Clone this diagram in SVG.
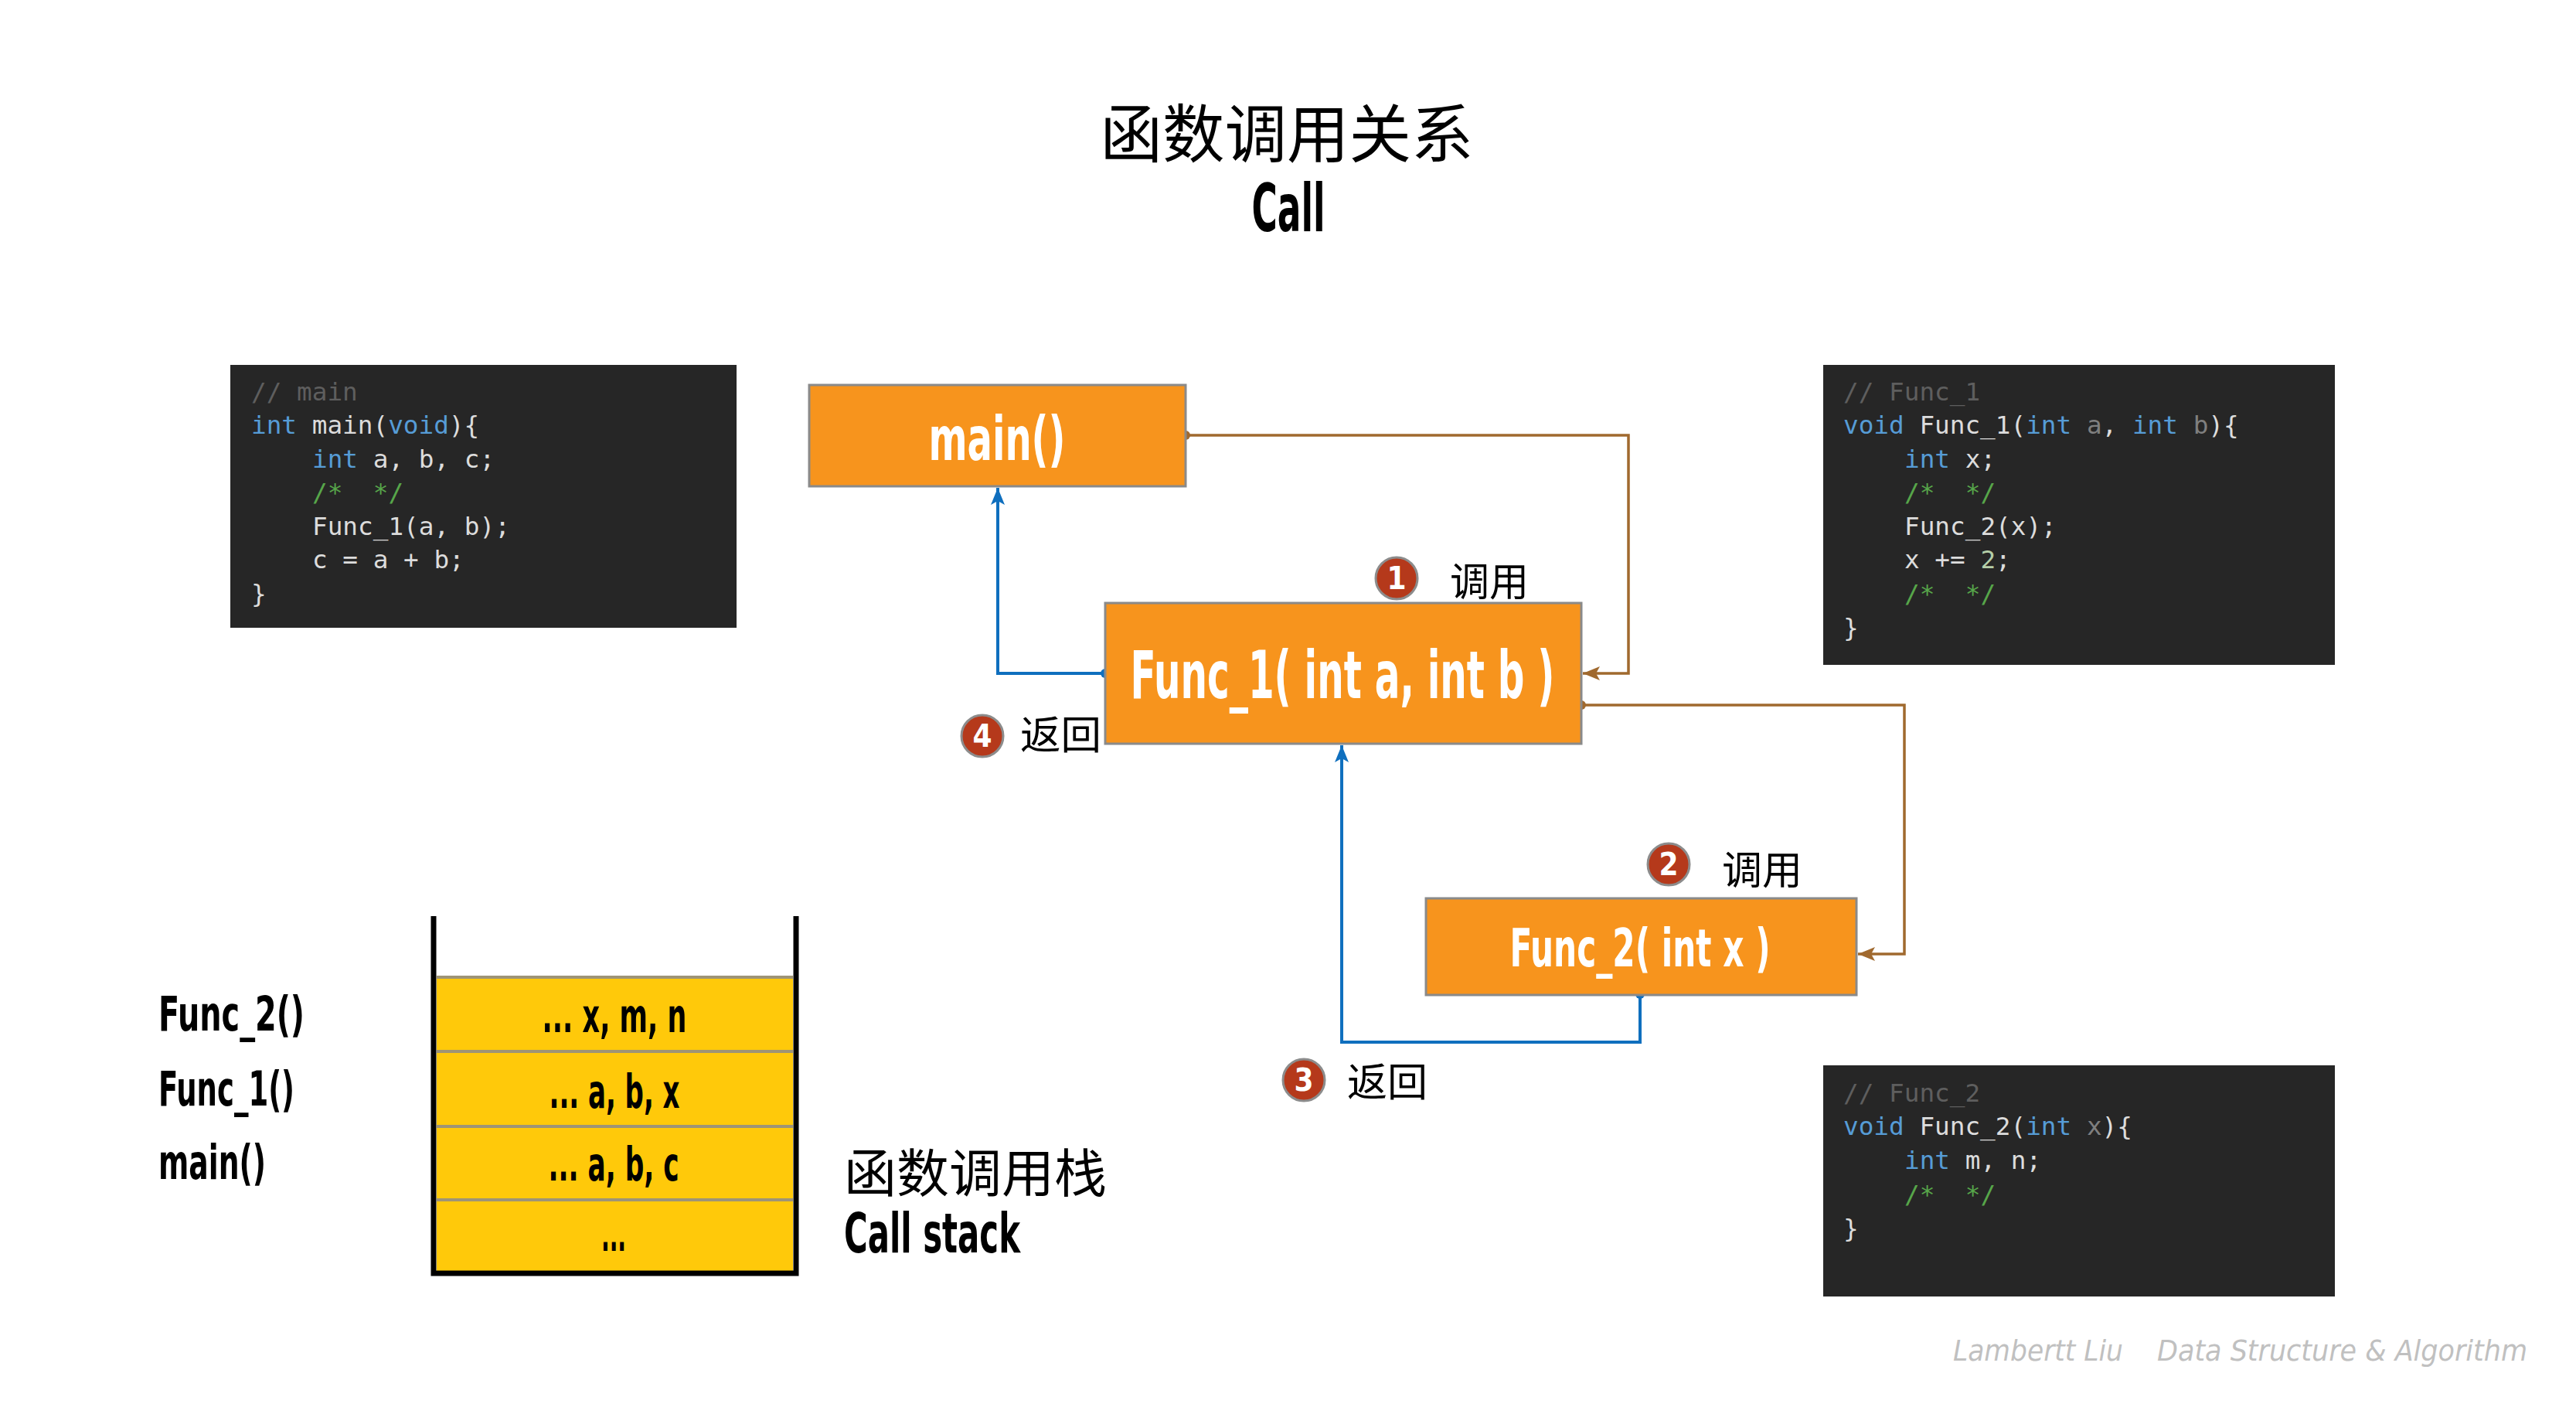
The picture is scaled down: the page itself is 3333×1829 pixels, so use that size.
<svg xmlns="http://www.w3.org/2000/svg" width="3333" height="1829" viewBox="0 0 3333 1829">
<defs>
<style>
.cond{font-family:"DejaVu Sans Condensed","DejaVu Sans",sans-serif;font-weight:bold;font-stretch:condensed}
.cjk{font-family:"Noto Sans CJK SC",sans-serif;fill:#000}
.box{fill:#F7941D;stroke:#8a8a8a;stroke-width:3}
.lbl{fill:#fff;text-anchor:middle}
.code{font-family:"DejaVu Sans Mono",monospace;font-size:32.7px;fill:#DCDCDC;white-space:pre}
.cbg{fill:#262626}
.kw{fill:#569CD6}
.cm{fill:#5e5e5e}
.gr{fill:#57A64A}
.un{fill:#7f7f7f}
.nu{fill:#B5CEA8}
.badge{fill:#B5391B;stroke:#8c8c8c;stroke-width:3}
.bnum{fill:#fff;text-anchor:middle;font-size:40px}
.brown{fill:none;stroke:#A0692E;stroke-width:3.5}
.blue{fill:none;stroke:#0F6FBE;stroke-width:4}
.cell{fill:#FFC90A}
.div{stroke:#9e9476;stroke-width:4}
.wall{stroke:#000;stroke-width:7;fill:none}
.stk{fill:#000;text-anchor:middle;font-size:60px}
</style>
<marker id="ahBrown" markerUnits="userSpaceOnUse" markerWidth="24" markerHeight="20" refX="22" refY="9" orient="auto">
<path d="M0,0 L22,9 L0,18 L5,9 z" fill="#A0692E"/>
</marker>
<marker id="ahBlue" markerUnits="userSpaceOnUse" markerWidth="24" markerHeight="20" refX="22" refY="9" orient="auto">
<path d="M0,0 L22,9 L0,18 L5,9 z" fill="#0F6FBE"/>
</marker>
<marker id="dotBrown" markerUnits="userSpaceOnUse" markerWidth="14" markerHeight="14" refX="7" refY="7">
<circle cx="7" cy="7" r="6" fill="#A0692E"/>
</marker>
<marker id="dotBlue" markerUnits="userSpaceOnUse" markerWidth="14" markerHeight="14" refX="7" refY="7">
<circle cx="7" cy="7" r="6" fill="#0F6FBE"/>
</marker>
</defs>
<rect width="3333" height="1829" fill="#fff"/>

<g id="title">
<text class="cjk" x="1665" y="203" font-size="82" text-anchor="middle" textLength="483" lengthAdjust="spacingAndGlyphs">函数调用关系</text>
<text class="cond" x="1667" y="299" font-size="85" text-anchor="middle" textLength="95" lengthAdjust="spacingAndGlyphs">Call</text>
</g>

<g id="code-main">
<rect class="cbg" x="298" y="472" width="655" height="340"/>
<text class="code" xml:space="preserve" x="325" y="518"><tspan class="cm">// main</tspan></text>
<text class="code" xml:space="preserve" x="325" y="561"><tspan class="kw">int</tspan> main(<tspan class="kw">void</tspan>){</text>
<text class="code" xml:space="preserve" x="404" y="605"><tspan class="kw">int</tspan> a, b, c;</text>
<text class="code" xml:space="preserve" x="404" y="648"><tspan class="gr">/*  */</tspan></text>
<text class="code" xml:space="preserve" x="404" y="692">Func_1(a, b);</text>
<text class="code" xml:space="preserve" x="404" y="735">c = a + b;</text>
<text class="code" xml:space="preserve" x="325" y="779">}</text>
</g>

<g id="code-func1">
<rect class="cbg" x="2359" y="472" width="662" height="388"/>
<text class="code" xml:space="preserve" x="2385" y="518"><tspan class="cm">// Func_1</tspan></text>
<text class="code" xml:space="preserve" x="2385" y="561"><tspan class="kw">void</tspan> Func_1(<tspan class="kw">int</tspan> <tspan class="un">a</tspan>, <tspan class="kw">int</tspan> <tspan class="un">b</tspan>){</text>
<text class="code" xml:space="preserve" x="2464" y="605"><tspan class="kw">int</tspan> x;</text>
<text class="code" xml:space="preserve" x="2464" y="648"><tspan class="gr">/*  */</tspan></text>
<text class="code" xml:space="preserve" x="2464" y="692">Func_2(x);</text>
<text class="code" xml:space="preserve" x="2464" y="735">x += <tspan class="nu">2</tspan>;</text>
<text class="code" xml:space="preserve" x="2464" y="779"><tspan class="gr">/*  */</tspan></text>
<text class="code" xml:space="preserve" x="2385" y="823">}</text>
</g>

<g id="code-func2">
<rect class="cbg" x="2359" y="1378" width="662" height="299"/>
<text class="code" xml:space="preserve" x="2385" y="1425"><tspan class="cm">// Func_2</tspan></text>
<text class="code" xml:space="preserve" x="2385" y="1468"><tspan class="kw">void</tspan> Func_2(<tspan class="kw">int</tspan> <tspan class="un">x</tspan>){</text>
<text class="code" xml:space="preserve" x="2464" y="1512"><tspan class="kw">int</tspan> m, n;</text>
<text class="code" xml:space="preserve" x="2464" y="1556"><tspan class="gr">/*  */</tspan></text>
<text class="code" xml:space="preserve" x="2385" y="1600">}</text>
</g>

<g id="connectors">
<path class="brown" d="M1534,563 H2107 V871 H2048" marker-start="url(#dotBrown)" marker-end="url(#ahBrown)"/>
<path class="brown" d="M2046,912 H2464 V1234 H2404" marker-start="url(#dotBrown)" marker-end="url(#ahBrown)"/>
<path class="blue" d="M1430,871 H1291 V631" marker-start="url(#dotBlue)" marker-end="url(#ahBlue)"/>
<path class="blue" d="M2122,1286 V1348 H1736 V964" marker-start="url(#dotBlue)" marker-end="url(#ahBlue)"/>
</g>

<g id="node-main">
<rect class="box" x="1047" y="498" width="487" height="131"/>
<text class="cond lbl" x="1290" y="595" font-size="78" textLength="177" lengthAdjust="spacingAndGlyphs">main()</text>
</g>

<g id="node-func1">
<rect class="box" x="1430" y="780" width="616" height="182"/>
<text class="cond lbl" x="1737" y="903" font-size="86" textLength="549" lengthAdjust="spacingAndGlyphs">Func_1( int a, int b )</text>
</g>

<g id="node-func2">
<rect class="box" x="1845" y="1162" width="557" height="125"/>
<text class="cond lbl" x="2122" y="1250" font-size="68" textLength="337" lengthAdjust="spacingAndGlyphs">Func_2( int x )</text>
</g>

<g id="step1">
<circle class="badge" cx="1807" cy="748" r="27"/>
<text class="cond bnum" x="1807" y="762">1</text>
<text class="cjk" x="1876" y="771" font-size="51" textLength="102" lengthAdjust="spacingAndGlyphs">调用</text>
</g>
<g id="step2">
<circle class="badge" cx="2159" cy="1118" r="27"/>
<text class="cond bnum" x="2159" y="1132">2</text>
<text class="cjk" x="2228" y="1144" font-size="51" textLength="104" lengthAdjust="spacingAndGlyphs">调用</text>
</g>
<g id="step3">
<circle class="badge" cx="1687" cy="1397" r="27"/>
<text class="cond bnum" x="1687" y="1411">3</text>
<text class="cjk" x="1743" y="1418" font-size="51" textLength="104" lengthAdjust="spacingAndGlyphs">返回</text>
</g>
<g id="step4">
<circle class="badge" cx="1271" cy="952" r="27"/>
<text class="cond bnum" x="1271" y="966">4</text>
<text class="cjk" x="1320" y="969" font-size="51" textLength="105" lengthAdjust="spacingAndGlyphs">返回</text>
</g>

<g id="stack">
<rect class="cell" x="565" y="1264" width="461" height="383"/>
<line class="div" x1="565" y1="1264" x2="1026" y2="1264"/>
<line class="div" x1="565" y1="1360" x2="1026" y2="1360"/>
<line class="div" x1="565" y1="1457" x2="1026" y2="1457"/>
<line class="div" x1="565" y1="1552" x2="1026" y2="1552"/>
<path class="wall" d="M561,1185 V1647 H1030 V1185"/>
<text class="cond stk" x="795" y="1335" textLength="187" lengthAdjust="spacingAndGlyphs">... x, m, n</text>
<text class="cond stk" x="795" y="1433" textLength="169" lengthAdjust="spacingAndGlyphs">... a, b, x</text>
<text class="cond stk" x="794" y="1527" textLength="169" lengthAdjust="spacingAndGlyphs">... a, b, c</text>
<text class="cond stk" x="794" y="1618" textLength="32" lengthAdjust="spacingAndGlyphs">...</text>
</g>

<g id="stack-labels">
<text class="cond" x="205" y="1333" font-size="63" textLength="189" lengthAdjust="spacingAndGlyphs">Func_2()</text>
<text class="cond" x="205" y="1430" font-size="63" textLength="176" lengthAdjust="spacingAndGlyphs">Func_1()</text>
<text class="cond" x="205" y="1525" font-size="63" textLength="139" lengthAdjust="spacingAndGlyphs">main()</text>
<text class="cjk" x="1092" y="1542" font-size="67" textLength="340" lengthAdjust="spacingAndGlyphs">函数调用栈</text>
<text class="cond" x="1092" y="1620" font-size="71" textLength="228" lengthAdjust="spacingAndGlyphs">Call stack</text>
</g>

<g id="footer" font-family="'DejaVu Sans Condensed','DejaVu Sans',sans-serif" font-style="italic" font-size="38" fill="#c0c0c0">
<text x="2527" y="1760" textLength="220" lengthAdjust="spacingAndGlyphs">Lambertt Liu</text>
<text x="2791" y="1760" textLength="479" lengthAdjust="spacingAndGlyphs">Data Structure &amp; Algorithm</text>
</g>
</svg>
